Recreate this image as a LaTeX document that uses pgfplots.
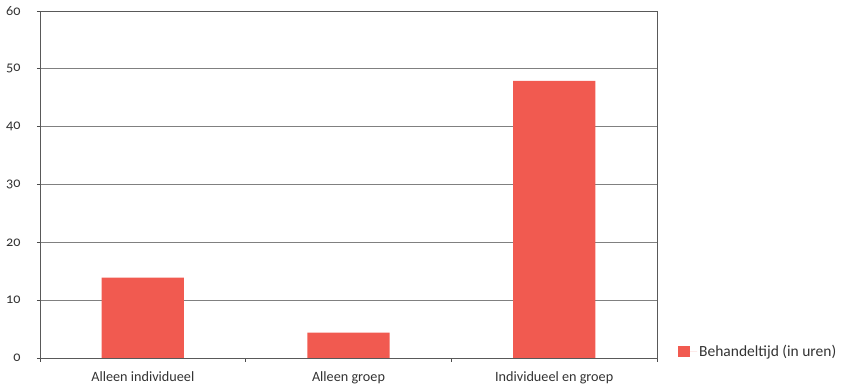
\documentclass[border=0pt]{standalone}
\usepackage{fontspec}
\setmainfont{Carlito}[Numbers=OldStyle]
\usepackage{pgfplots}
\pgfplotsset{compat=1.18}
\definecolor{barred}{HTML}{F15A50}
\definecolor{gridgray}{HTML}{808080}
\definecolor{txt}{HTML}{333333}
\begin{document}
\begin{tikzpicture}
\path[use as bounding box] (-40pt,-30pt) rectangle (801pt,358pt);
\begin{axis}[
  at={(0,0)}, anchor=south west,
  scale only axis,
  width=617pt, height=347pt,
  xmin=-0.5, xmax=2.5,
  ymin=0, ymax=60,
  ytick={0,10,...,60},
  xtick={0,1,2},
  xticklabels={Alleen individueel,Alleen groep,Individueel en groep},
  minor xtick={-0.5,0.5,1.5,2.5},
  xtick pos=left, ytick pos=left,
  tick align=outside,
  major tick length=3pt,
  minor tick length=4pt,
  x tick style={draw=none},
  minor x tick style={draw=black!70, line width=0.8pt},
  y tick style={draw=black!70, line width=0.8pt},
  ymajorgrids,
  grid style={gridgray, line width=0.9pt},
  axis line style={black!65, line width=0.9pt},
  ticklabel style={font=\fontsize{14.2}{16}\selectfont, text=txt},
  /pgf/number format/assume math mode=true,
  yticklabel style={xshift=-13pt},
  xticklabel style={yshift=-7pt},
  legend style={draw=none, fill=none, at={(1,0)}, anchor=south west,
    xshift=18pt, yshift=-4pt, font=\fontsize{15.5}{17}\selectfont, text=txt},
  legend image code/.code={\fill[#1] (0pt,-6pt) rectangle (11.5pt,5.5pt); \path (0pt,0pt) -- (19pt,0pt);},
  legend cell align=left,
]
\addplot[ybar, bar width=0.4, fill=barred, draw=none] coordinates {(0,13.9) (1,4.4) (2,47.9)};
\addlegendentry{Behandeltijd (in uren)}
\end{axis}
\end{tikzpicture}
\end{document}
